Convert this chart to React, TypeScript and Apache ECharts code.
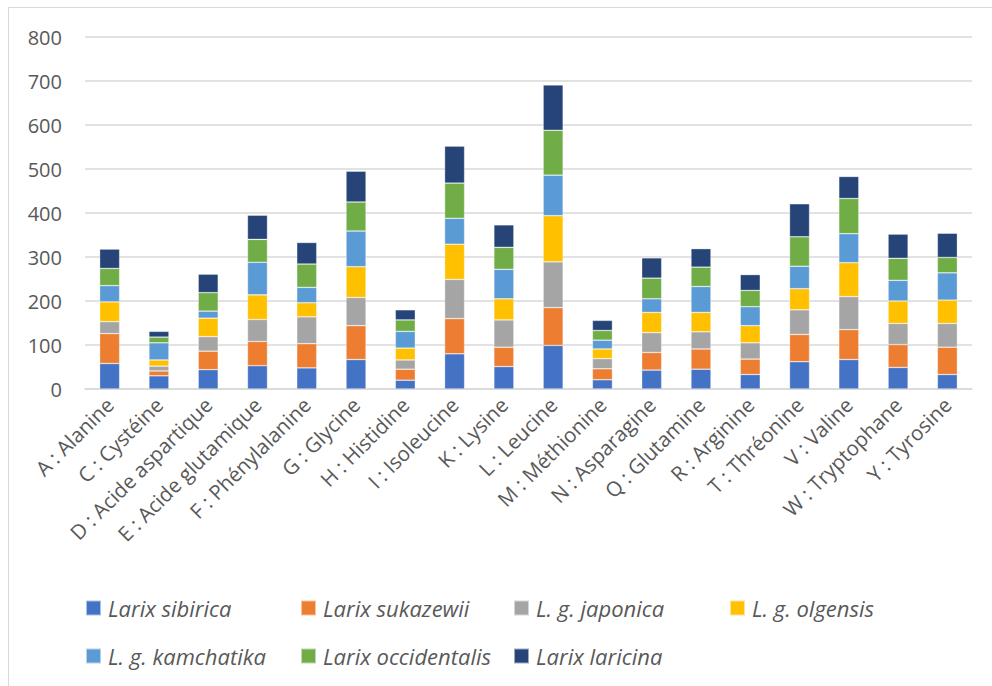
import React, { useEffect, useRef } from "react";
import * as echarts from "echarts";

const aminoAcids = [
  "A : Alanine",
  "C : Cystéine",
  "D : Acide aspartique",
  "E : Acide glutamique",
  "F : Phénylalanine",
  "G : Glycine",
  "H : Histidine",
  "I : Isoleucine",
  "K : Lysine",
  "L : Leucine",
  "M : Méthionine",
  "N : Asparagine",
  "Q : Glutamine",
  "R : Arginine",
  "T : Thréonine",
  "V : Valine",
  "W : Tryptophane",
  "Y : Tyrosine",
];

const speciesNames = [
  "Larix sibirica",
  "Larix sukazewii",
  "L. g. japonica",
  "L. g. olgensis",
  "L. g. kamchatika",
  "Larix occidentalis",
  "Larix laricina",
];

const speciesColors = ["#4472C4", "#ED7D31", "#A5A5A5", "#FFC000", "#5B9BD5", "#70AD47", "#264478"];

const larixSibirica = [58, 30, 44, 53, 48, 67, 20, 80, 51, 99, 21, 43, 45, 33, 62, 67, 49, 33];
const larixSukazewii = [68, 11, 42, 55, 55, 77, 25, 80, 44, 86, 25, 40, 46, 35, 62, 68, 52, 62];
const lgJaponica = [27, 11, 33, 50, 61, 64, 21, 89, 62, 104, 23, 45, 39, 37, 56, 75, 48, 54];
const lgOlgensis = [45, 14, 42, 56, 32, 70, 27, 80, 48, 105, 22, 46, 44, 39, 48, 77, 51, 53];
const lgKamchatika = [37, 39, 16, 74, 35, 81, 38, 59, 67, 92, 20, 31, 59, 43, 51, 66, 47, 62];
const larixOccidentalis = [39, 13, 42, 52, 53, 66, 26, 80, 50, 102, 22, 47, 44, 37, 67, 80, 50, 35];
const larixLaricina = [44, 13, 42, 55, 49, 70, 23, 84, 51, 103, 23, 46, 42, 36, 75, 50, 55, 55];

const seriesValues = [
  larixSibirica,
  larixSukazewii,
  lgJaponica,
  lgOlgensis,
  lgKamchatika,
  larixOccidentalis,
  larixLaricina,
];

const yTicks = { min: 0, max: 800, interval: 100 };

const FONT = "'Open Sans', 'Noto Sans', sans-serif";
const TEXT_COLOR = "#595959";
const GRID_COLOR = "#d9d9d9";

// Legend laid out as a fixed grid: four columns on the first row, three on the second.
const legendColumns = [85, 300, 513, 729];
const legendRows = [597, 645];

export default function App() {
  const ref = useRef<HTMLDivElement>(null);

  useEffect(() => {
    if (!ref.current) return;
    const chart = echarts.init(ref.current, undefined, { renderer: "svg" });

    const legends = speciesNames.map((name, i) => ({
      data: [name],
      left: legendColumns[i % 4],
      top: legendRows[Math.floor(i / 4)],
      padding: 0,
      icon: "rect",
      itemWidth: 15,
      itemHeight: 15,
      selectedMode: false,
      textStyle: {
        fontFamily: FONT,
        fontSize: 22,
        fontStyle: "italic",
        color: TEXT_COLOR,
        padding: [0, 0, 0, 2],
      },
    }));

    chart.setOption({
      animation: false,
      backgroundColor: "#ffffff",
      color: speciesColors,
      graphic: [
        {
          type: "rect",
          shape: { x: 8.5, y: 7.5, width: 1000, height: 700 },
          style: { fill: "none", stroke: GRID_COLOR, lineWidth: 1 },
          silent: true,
        },
      ],
      legend: legends,
      grid: { left: 85, right: 20, top: 37, bottom: 297, containLabel: false },
      xAxis: {
        type: "category",
        data: aminoAcids,
        axisLine: { show: true, lineStyle: { color: GRID_COLOR, width: 1.5 } },
        axisTick: { show: false },
        axisLabel: {
          interval: 0,
          rotate: 45,
          margin: 12,
          fontFamily: FONT,
          fontSize: 20.5,
          color: TEXT_COLOR,
        },
      },
      yAxis: {
        type: "value",
        min: yTicks.min,
        max: yTicks.max,
        interval: yTicks.interval,
        axisLine: { show: false },
        axisTick: { show: false },
        splitLine: { lineStyle: { color: GRID_COLOR, width: 1.5 } },
        axisLabel: {
          margin: 23,
          fontFamily: FONT,
          fontSize: 20,
          color: TEXT_COLOR,
        },
      },
      series: speciesNames.map((name, i) => ({
        name,
        type: "bar",
        stack: "total",
        barWidth: 20,
        data: seriesValues[i],
        itemStyle: { borderColor: "rgba(255,255,255,0.55)", borderWidth: 0.6 },
      })),
    });

    return () => chart.dispose();
  }, []);

  return (
    <div
      ref={ref}
      style={{ position: "absolute", left: 0, top: 0, width: 992, height: 686 }}
    />
  );
}
